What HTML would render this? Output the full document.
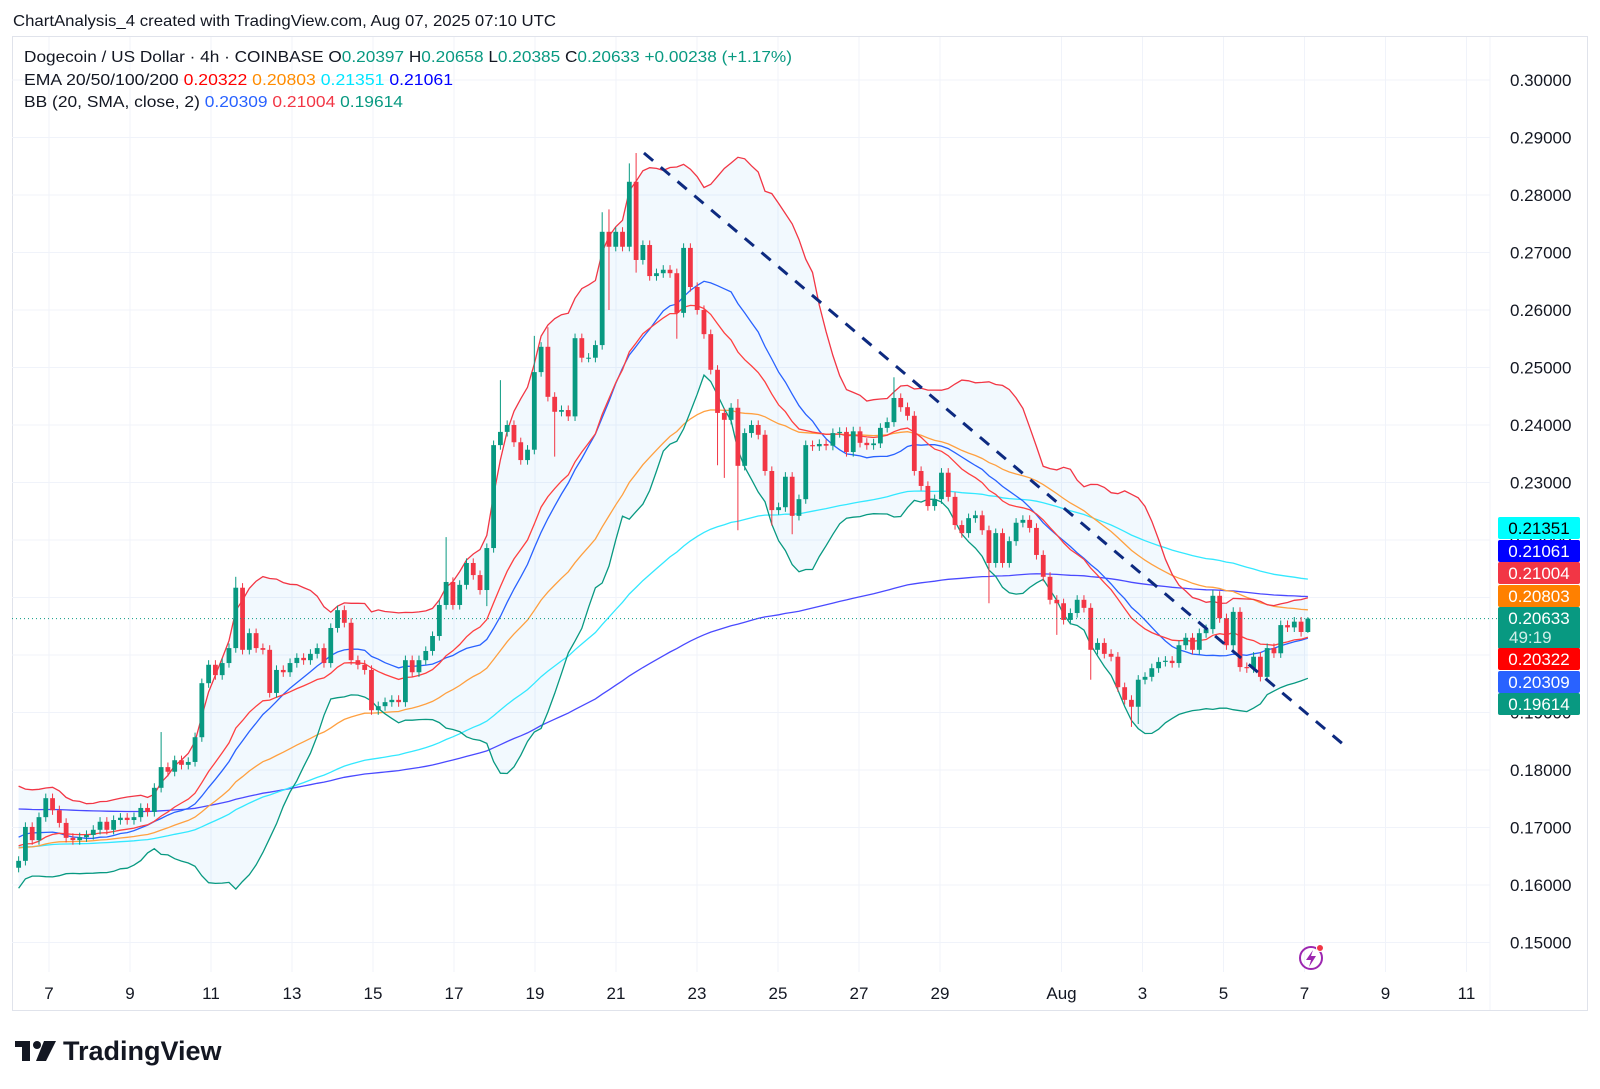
<!DOCTYPE html>
<html><head><meta charset="utf-8">
<style>
html,body{margin:0;padding:0;background:#fff;}
svg{display:block;font-family:"Liberation Sans",sans-serif;}
</style></head>
<body>
<svg id="chart" width="1600" height="1089" viewBox="0 0 1600 1089" xmlns="http://www.w3.org/2000/svg">
  <rect x="0" y="0" width="1600" height="1089" fill="#ffffff"/>
  <text x="13" y="26" font-size="16" fill="#131722" textLength="543" lengthAdjust="spacingAndGlyphs">ChartAnalysis_4 created with TradingView.com, Aug 07, 2025 07:10 UTC</text>
  <rect x="12.5" y="36.5" width="1575" height="974" fill="none" stroke="#e0e3eb"/>
  <g id="grid"></g>
  <g id="plot"></g>
  <g id="axes"></g>
  <g font-size="16">
    <text x="24" y="62" textLength="768" lengthAdjust="spacingAndGlyphs" fill="#131722">Dogecoin / US Dollar · 4h · COINBASE  O<tspan fill="#089981">0.20397</tspan>  H<tspan fill="#089981">0.20658</tspan>  L<tspan fill="#089981">0.20385</tspan>  C<tspan fill="#089981">0.20633</tspan>  <tspan fill="#089981">+0.00238 (+1.17%)</tspan></text>
    <text x="24" y="85" textLength="429" lengthAdjust="spacingAndGlyphs" fill="#131722">EMA 20/50/100/200  <tspan fill="#ff0000">0.20322</tspan>  <tspan fill="#ff8c00">0.20803</tspan>  <tspan fill="#00e5ff">0.21351</tspan>  <tspan fill="#0000ff">0.21061</tspan></text>
    <text x="24" y="107" textLength="379" lengthAdjust="spacingAndGlyphs" fill="#131722">BB (20, SMA, close, 2)  <tspan fill="#2962ff">0.20309</tspan>  <tspan fill="#f23645">0.21004</tspan>  <tspan fill="#089981">0.19614</tspan></text>
  </g>
  <g>
    <rect x="15" y="1041" width="15" height="6" fill="#131722"/>
    <rect x="22" y="1041" width="8" height="20" fill="#131722"/>
    <circle cx="37" cy="1045" r="4" fill="#131722"/>
    <polygon points="44,1041 56,1041 46,1061 36,1061" fill="#131722"/>
    <text x="63" y="1060" font-size="27" font-weight="bold" fill="#131722">TradingView</text>
  </g>
  <g>
    <circle cx="1311" cy="958" r="11" fill="none" stroke="#9c27b0" stroke-width="2"/>
    <path d="M1313 950 L1306 960 L1311 960 L1309 967 L1316 956 L1311 956 Z" fill="#9c27b0"/>
    <circle cx="1320" cy="948" r="3.5" fill="#f23645" stroke="#fff" stroke-width="1"/>
  </g>
</svg>
<script>
const priorCloses=[0.1560,0.1590,0.1640,0.1710,0.1740,0.1720,0.1750,0.1760,0.1730,0.1700,0.1720,0.1690,0.1670,0.1690,0.1660,0.1650,0.1680,0.1650,0.1640,0.1630];
const closes=[0.1642,0.1701,0.1678,0.1718,0.1751,0.1730,0.1708,0.1682,0.1678,0.1683,
0.1687,0.1696,0.1710,0.1696,0.1713,0.1717,0.1713,0.1718,0.1734,0.1727,
0.1769,0.1805,0.1797,0.1817,0.1809,0.1814,0.1857,0.1951,0.1983,0.1965,
0.1986,0.2012,0.2117,0.2009,0.2038,0.2012,0.2009,0.1934,0.1974,0.1970,
0.1986,0.1995,0.1991,0.2002,0.2012,0.1986,0.2047,0.2078,0.2056,0.1991,
0.1983,0.1974,0.1904,0.1911,0.1918,0.1922,0.1918,0.1991,0.1970,0.1991,
0.2007,0.2033,0.2087,0.2127,0.2087,0.2122,0.2160,0.2139,0.2113,0.2186,
0.2365,0.2388,0.2400,0.2370,0.2339,0.2357,0.2492,0.2536,0.2449,0.2423,
0.2426,0.2415,0.2551,0.2517,0.2517,0.2539,0.2736,0.2710,0.2736,0.2710,
0.2823,0.2687,0.2713,0.2659,0.2664,0.2670,0.2664,0.2595,0.2708,0.2640,
0.2600,0.2558,0.2496,0.2421,0.2409,0.2430,0.2329,0.2386,0.2400,0.2383,
0.2320,0.2252,0.2257,0.2310,0.2242,0.2271,0.2365,0.2363,0.2367,0.2364,
0.2386,0.2388,0.2353,0.2389,0.2369,0.2365,0.2368,0.2395,0.2405,0.2447,
0.2431,0.2416,0.2320,0.2294,0.2259,0.2271,0.2317,0.2275,0.2226,0.2212,
0.2238,0.2243,0.2217,0.2160,0.2212,0.2160,0.2198,0.2230,0.2235,0.2221,
0.2174,0.2136,0.2096,0.2090,0.2061,0.2073,0.2096,0.2082,0.2009,0.2021,
0.2002,0.1997,0.1944,0.1922,0.1910,0.1957,0.1962,0.1977,0.1988,0.1990,
0.1986,0.2017,0.2030,0.2009,0.2038,0.2045,0.2103,0.2064,0.2017,0.2075,
0.1979,0.1977,0.1997,0.1962,0.2012,0.2003,0.2052,0.2048,0.2058,0.2040,0.20633];
const wickIndex=[21,32,63,69,71,76,78,79,86,87,90,91,97,103,104,106,111,114,129,143,153,158,164,165,176,190];
const wickHighs=[0.1866,0.2136,0.2205,null,0.2478,0.2555,0.2570,null,0.2770,0.2775,0.2855,0.2873,null,null,null,0.2445,null,null,0.2483,null,null,null,null,null,0.2113,0.20658];
const wickLows=[null,null,null,0.2085,null,null,null,0.2345,null,0.2600,null,0.2665,0.2550,0.2330,0.2308,0.2217,0.2225,0.2210,null,0.2090,0.2035,0.1957,0.1875,0.1880,null,0.20385];
const emaSeeds=[0.1660,0.1650,0.1660,0.1745];
const priceTicks=[0.15,0.16,0.17,0.18,0.19,0.20,0.21,0.22,0.23,0.24,0.25,0.26,0.27,0.28,0.29,0.30];
const dayTickDays=[1,3,5,7,9,11,13,15,17,19,21,23,25,26,28,30,32,34,36];
const dayTickLabels=["7","9","11","13","15","17","19","21","23","25","27","29","","Aug","3","5","7","9","11"];
const trendDays=[15.69,33.0];
const trendPrices=[0.2873,0.1842];
const badgeValues=[0.21351,0.21061,0.21004,0.20803,0.20633,0.20322,0.20309,0.19614];
const badgeColors=["#00ffff","#0000ff","#f23645","#ff8000","#089981","#ff0000","#2962ff","#089981"];
const badgeCenters=[528,551,573,596,618,659,682,704];

const NS="http://www.w3.org/2000/svg";
const PL=12,PR=1490,PT=37,PB=972;
function yOf(p){return 655-(p-0.20)*5750;}
function xOfDay(t){return 49+(t-1)*40.5;}
const START=1;
function xOfCandle(k){return xOfDay((k+START+0.5)/6)+ (k/190)*6.75;}
function mk(tag,attrs,parent){const e=document.createElementNS(NS,tag);for(const a in attrs)e.setAttribute(a,attrs[a]);parent.appendChild(e);return e;}

const grid=document.getElementById('grid');
const plot=document.getElementById('plot');
const axes=document.getElementById('axes');

for(const p of priceTicks){
  const l=mk('line',{x1:PL,x2:PR,y1:yOf(p),y2:yOf(p),stroke:'#f0f3fa','stroke-width':1},grid);
  
  
  const t=mk('text',{x:1510,y:yOf(p)+6,'font-size':17,fill:'#131722'},axes);
  
  
  t.textContent=p.toFixed(5);
}
for(let i=0;i<dayTickDays.length;i++){
  const x=xOfDay(dayTickDays[i]);
  if(dayTickLabels[i]==="") continue;
  const l=mk('line',{x1:x,x2:x,y1:PT,y2:PB,stroke:'#f0f3fa','stroke-width':1},grid);
  
  
  const t=mk('text',{x:x,y:999,'font-size':17,fill:'#131722','text-anchor':'middle'},axes);
  
  
  t.textContent=dayTickLabels[i];
}
const sep=mk('line',{x1:PR,x2:PR,y1:PT,y2:1010,stroke:'#f0f3fa'},grid);



const all=priorCloses.concat(closes);
const off=priorCloses.length;
function ema(period,seed){const a=2/(period+1);let v=seed;const out=[];for(const c of all){v=v+a*(c-v);out.push(v);}return out.slice(off);}
const e20=ema(20,emaSeeds[0]),e50=ema(50,emaSeeds[1]),e100=ema(100,emaSeeds[2]),e200=ema(200,emaSeeds[3]);
const bbMid=[],bbUp=[],bbLo=[];
for(let k=0;k<closes.length;k++){
  const j=k+off;const w=all.slice(Math.max(0,j-19),j+1);
  const m=w.reduce((s,v)=>s+v,0)/w.length;
  const sd=Math.sqrt(w.reduce((s,v)=>s+(v-m)*(v-m),0)/w.length);
  bbMid.push(m);bbUp.push(m+2*sd);bbLo.push(m-2*sd);
}
function pathOf(arr){return arr.map((v,k)=>(k?'L':'M')+xOfCandle(k).toFixed(1)+' '+yOf(v).toFixed(1)).join(' ');}

const clip=mk('clipPath',{id:'pclip'},document.getElementById('chart'));
mk('rect',{x:PL,y:PT,width:PR-PL,height:PB-PT},clip);
plot.setAttribute('clip-path','url(#pclip)');

let fillD=pathOf(bbUp);
for(let k=bbLo.length-1;k>=0;k--) fillD+=' L'+xOfCandle(k).toFixed(1)+' '+yOf(bbLo[k]).toFixed(1);
const fill=mk('path',{d:fillD+' Z',fill:'rgba(33,150,243,0.06)',stroke:'none'},plot);



const lines=[[e200,'#4a4aff','ema-200'],[e100,'#33e8ff','ema-100'],[e50,'#ffa040','ema-50'],[bbMid,'#2962ff','bb-basis'],[e20,'#ff4040','ema-20'],[bbUp,'#f23645','bb-upper'],[bbLo,'#089981','bb-lower']];
for(const [arr,col,name] of lines){
  const p=mk('path',{d:pathOf(arr),fill:'none',stroke:col,'stroke-width':1.3},plot);
  
  
}

for(let k=0;k<closes.length;k++){
  const o=k===0?priorCloses[priorCloses.length-1]:closes[k-1];
  const c=closes[k];
  const wi=wickIndex.indexOf(k);
  let hi=Math.max(o,c)+0.0008,lo=Math.min(o,c)-0.0008;
  if(wi>=0){if(wickHighs[wi]!==null)hi=wickHighs[wi];if(wickLows[wi]!==null)lo=wickLows[wi];}
  const col=c>=o?'#089981':'#f23645';
  const x=xOfCandle(k);
  const g=mk('g',{},plot);
  
  
  mk('line',{x1:x,x2:x,y1:yOf(hi),y2:yOf(lo),stroke:col,'stroke-width':1},g);
  const top=yOf(Math.max(o,c)),h=Math.max(1,yOf(Math.min(o,c))-top);
  mk('rect',{x:x-2.4,y:top,width:4.8,height:h,fill:col},g);
}

const tl=mk('line',{x1:xOfDay(trendDays[0]),y1:yOf(trendPrices[0]),x2:xOfDay(trendDays[1]),y2:yOf(trendPrices[1]),stroke:'#0d2a80','stroke-width':3,'stroke-dasharray':'12 10'},plot);



const lp=mk('line',{x1:PL,x2:1498,y1:yOf(closes[closes.length-1]),y2:yOf(closes[closes.length-1]),stroke:'#089981','stroke-width':1,'stroke-dasharray':'1 3'},axes);



for(let i=0;i<badgeValues.length;i++){
  const cy=badgeCenters[i];
  const isLast=i===4;
  const h=isLast?42:22;const top=cy-11;
  const g=mk('g',{},axes);
  
  
  mk('rect',{x:1498,y:top,width:82,height:h,rx:2,fill:badgeColors[i]},g);
  const t=mk('text',{x:1539,y:cy+6,'font-size':17,'text-anchor':'middle',fill:i===0?'#000':'#fff'},g);
  t.textContent=badgeValues[i].toFixed(5);
  if(isLast){const t2=mk('text',{x:1509,y:cy+25,'font-size':17,fill:'#cfeee8'},g);t2.textContent='49:19';}
}
</script>
</body></html>
